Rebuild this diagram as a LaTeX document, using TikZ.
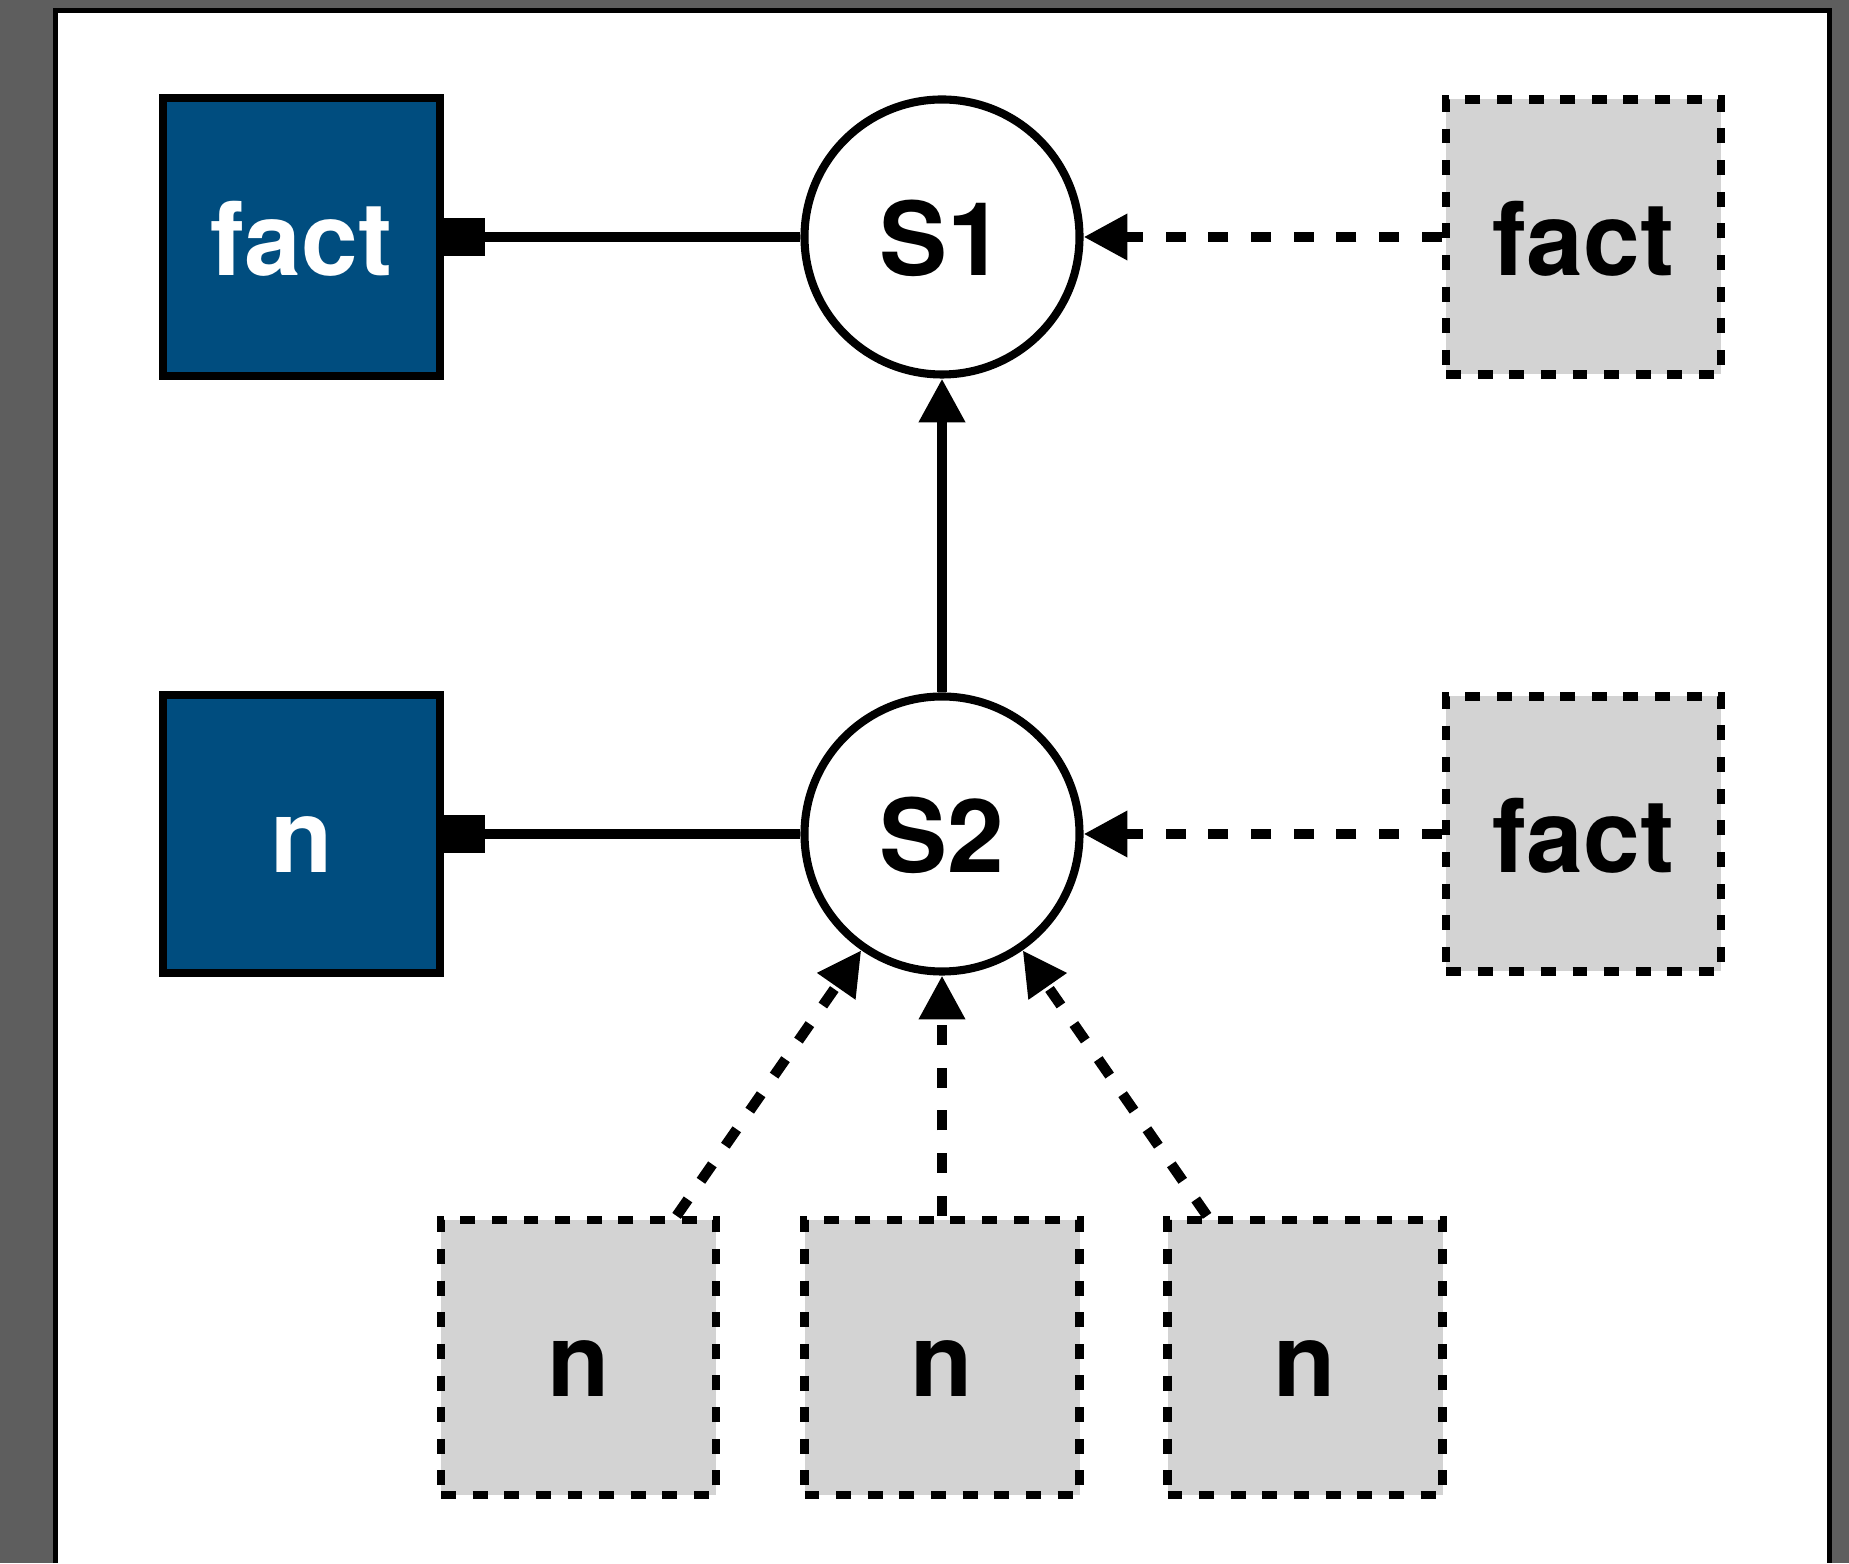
\documentclass[tikz,border=0pt]{standalone}
\usepackage{fontspec}
\setmainfont{TeX Gyre Heros}
\usetikzlibrary{arrows.meta}
\definecolor{factblue}{RGB}{0,77,127}
\definecolor{framegray}{RGB}{94,94,94}
\definecolor{slotgray}{RGB}{211,211,211}

\begin{document}
\begin{tikzpicture}[scale=2,
  state/.style = {draw, circle, line width=4.6pt, fill=white, minimum size=5.5cm, inner sep=0pt},
  given/.style = {draw, rectangle, line width=4.6pt, fill=factblue, text=white, minimum size=5.55cm, inner sep=0pt},
  slot/.style = {draw, rectangle, line width=4.7pt, dash pattern=on 8.5pt off 9.5pt, fill=slotgray, minimum size=5.5cm, inner sep=0pt},
  every node/.append style = {font=\fontsize{58}{60}\selectfont\bfseries, text height=44pt, text depth=0pt},
  link/.style = {line width=6.1pt},
  feed/.style = {line width=5.9pt, dash pattern=on 11.4pt off 12.9pt}]

%% frame
\useasboundingbox (0,0) rectangle (18.49,15.63);
\fill[framegray] (0,0) rectangle (18.49,15.63);
\fill[white] (0.555,0) rectangle (18.295,15.525);
\draw[line width=2.85pt] (0.555,0) |- (18.295,15.525) -- (18.295,0);

%% nodes
\node[given] (f1) at (3.015, 13.26) {fact};
\node[state] (s1) at (9.42, 13.26) {S1};
\node[slot] (f2) at (15.835, 13.26) {fact};

\node[given] (n0) at (3.015, 7.29) {n};
\node[state] (s2) at (9.42, 7.29) {S2};
\node[slot] (f3) at (15.835, 7.29) {fact};

\node[slot] (n1) at (5.785, 2.055) {n};
\node[slot] (n2) at (9.42, 2.055) {n};
\node[slot] (n3) at (13.05, 2.055) {n};

%%% edges
\draw[link, {Square[length=23pt,width=21.5pt]}-] (f1) -- (s1);
\draw[link, {Square[length=23pt,width=21.5pt]}-] (n0) -- (s2);
\draw[link, -{Triangle[length=25pt,width=25pt]}] (s2) -- (s1);

\draw[feed, -{Triangle[length=25pt,width=25pt]}] (f2) -- (s1);
\draw[feed, -{Triangle[length=25pt,width=25pt]}] (f3) -- (s2);
\draw[feed, -{Triangle[length=25pt,width=25pt]}] (n1) -- (s2);
\draw[feed, -{Triangle[length=25pt,width=25pt]}] (n2) -- (s2);
\draw[feed, -{Triangle[length=25pt,width=25pt]}] (n3) -- (s2);

\end{tikzpicture}
\end{document}
